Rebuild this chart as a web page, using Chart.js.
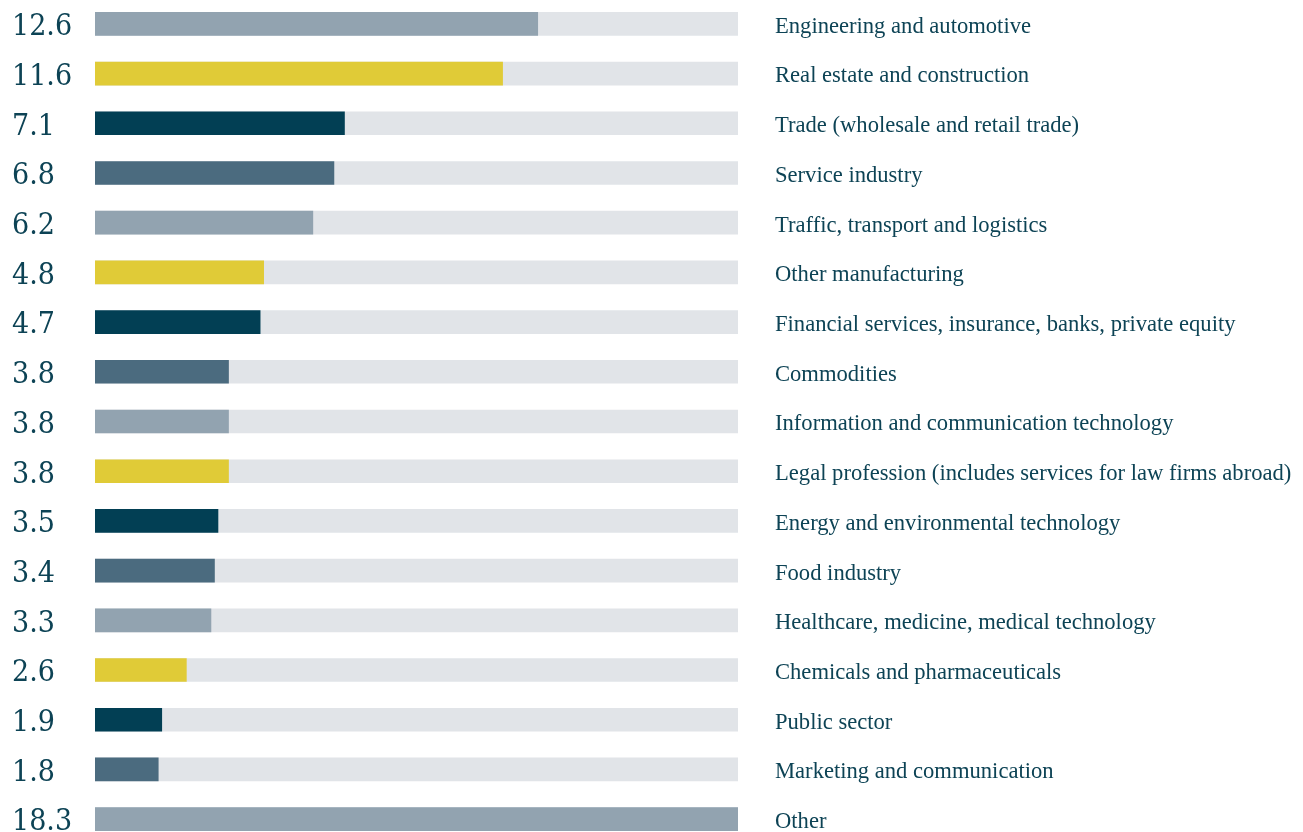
<!DOCTYPE html>
<html lang="en">
<head>
    <meta charset="UTF-8">
    <title>Industries</title>
    <script src="https://cdn.jsdelivr.net/npm/chart.js"></script>
    <style>
        html, body {
            margin: 0;
            padding: 0;
            background: #fff;
            overflow: hidden;
        }
        .chart-box {
            position: absolute;
            left: 0;
            top: -1px;
            width: 1303px;
            height: 845px;
        }
    </style>
</head>
<body>
    <div class="chart-box">
        <canvas id="industryChart"></canvas>
    </div>

    <script>
        // Data
        const categories = [
            'Engineering and automotive',
            'Real estate and construction',
            'Trade (wholesale and retail trade)',
            'Service industry',
            'Traffic, transport and logistics',
            'Other manufacturing',
            'Financial services, insurance, banks, private equity',
            'Commodities',
            'Information and communication technology',
            'Legal profession (includes services for law firms abroad)',
            'Energy and environmental technology',
            'Food industry',
            'Healthcare, medicine, medical technology',
            'Chemicals and pharmaceuticals',
            'Public sector',
            'Marketing and communication',
            'Other'
        ];
        const values = [12.6, 11.6, 7.1, 6.8, 6.2, 4.8, 4.7, 3.8, 3.8, 3.8, 3.5, 3.4, 3.3, 2.6, 1.9, 1.8, 18.3];
        const valueLabels = ['12.6', '11.6', '7.1', '6.8', '6.2', '4.8', '4.7', '3.8', '3.8', '3.8', '3.5', '3.4', '3.3', '2.6', '1.9', '1.8', '18.3'];
        const axisMax = 18.3;

        // colours repeat every four rows
        const palette = ['#92a3b0', '#e0cb37', '#023f54', '#4b6b7f'];
        const textColor = '#0d4355';
        const trackColor = '#e1e4e8';

        const barColors = categories.map((c, i) => palette[i % palette.length]);
        const trackValues = categories.map(() => axisMax);

        // keep the label axes from adding space above and below the bars
        function fitAxis(width) {
            return function(scale) {
                scale.width = width;
                scale.paddingTop = 0;
                scale.paddingBottom = 0;
            };
        }

        new Chart(document.getElementById('industryChart'), {
            type: 'bar',
            data: {
                labels: valueLabels,
                datasets: [{
                    label: 'Share (%)',
                    data: values,
                    backgroundColor: barColors,
                    barThickness: 23,
                    grouped: false,
                    order: 1
                }, {
                    label: 'track',
                    data: trackValues,
                    backgroundColor: trackColor,
                    barThickness: 23,
                    grouped: false,
                    order: 2
                }]
            },
            options: {
                indexAxis: 'y',
                responsive: true,
                maintainAspectRatio: false,
                animation: false,
                layout: {
                    padding: { left: 12, right: 0, top: 0, bottom: 0 }
                },
                plugins: {
                    legend: { display: false },
                    tooltip: { enabled: false }
                },
                scales: {
                    x: {
                        display: false,
                        min: 0,
                        max: axisMax
                    },
                    y: {
                        position: 'left',
                        grid: { display: false, drawTicks: false },
                        border: { display: false },
                        ticks: {
                            crossAlign: 'far',
                            color: textColor,
                            padding: 0,
                            labelOffset: 3.5,
                            font: { family: 'DejaVu Serif Condensed', size: 30 }
                        },
                        afterFit: fitAxis(83)
                    },
                    y2: {
                        type: 'category',
                        labels: categories,
                        position: 'right',
                        offset: true,
                        grid: { display: false, drawTicks: false },
                        border: { display: false },
                        ticks: {
                            crossAlign: 'near',
                            color: textColor,
                            padding: 37,
                            labelOffset: 3,
                            font: { family: 'Liberation Serif', size: 22.6 }
                        },
                        afterFit: fitAxis(565)
                    }
                }
            }
        });
    </script>
</body>
</html>
